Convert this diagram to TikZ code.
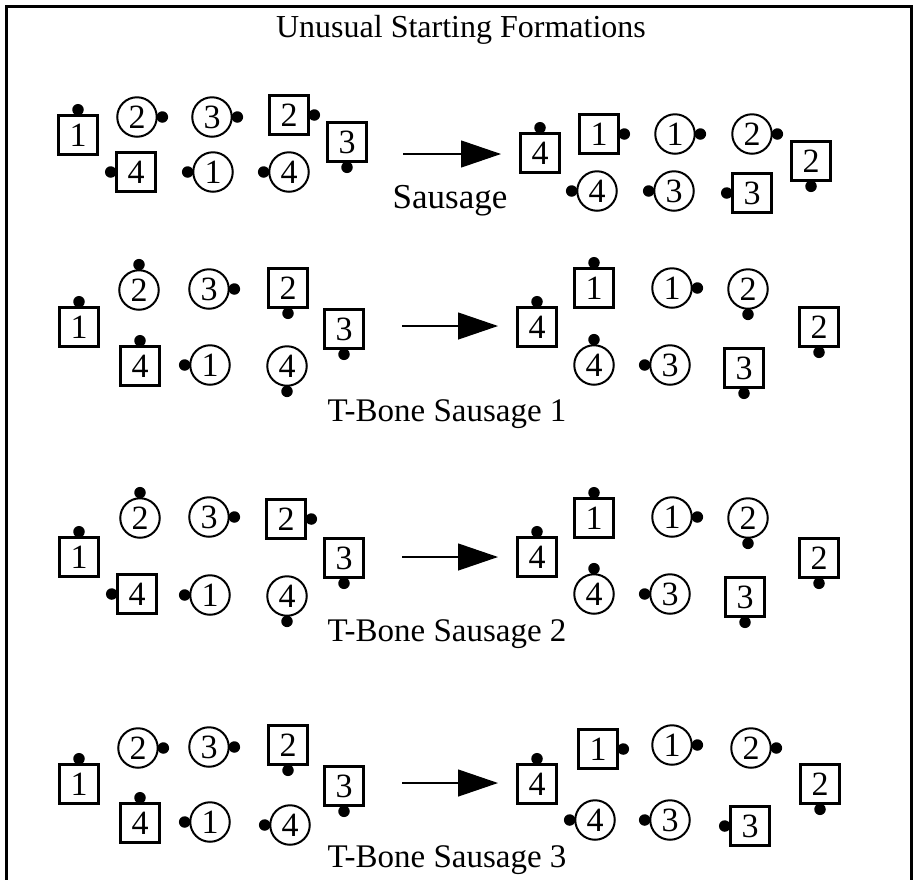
\documentclass[tikz,border=0pt]{standalone}
\usepackage{fontspec}
\setmainfont{Liberation Serif}
\usetikzlibrary{arrows.meta}
\newcommand\bigfs{\fontsize{34}{40}\selectfont}
\newcommand\ttlfs{\fontsize{32}{38}\selectfont}
\newcommand\lblfs{\fontsize{33}{40}\selectfont}
\newcommand\slblfs{\fontsize{35}{40}\selectfont}
\tikzset{
  sq/.style={draw, line width=2.9pt, minimum size=38.5pt, inner sep=0pt, font=\bigfs},
  ci/.style={draw, circle, line width=2pt, minimum size=39.5pt, inner sep=0pt, font=\bigfs},
  dot/.style={fill, circle, minimum size=11.5pt, inner sep=0pt, draw=none},
  lbl/.style={anchor=base, font=\lblfs, inner sep=0pt},
  ttl/.style={anchor=base, font=\ttlfs, inner sep=0pt},
  movearrow/.style={line width=1.2pt, -{Triangle[length=40pt,width=27pt]}},
  frame/.style={line width=3pt}
}
% dot macros: name, node
\newcommand\dN[2]{\node[dot] (#1) at ([yshift=4.6pt]#2.north) {};}
\newcommand\dS[2]{\node[dot] (#1) at ([yshift=-4.6pt]#2.south) {};}
\newcommand\dE[2]{\node[dot] (#1) at ([xshift=4.6pt]#2.east) {};}
\newcommand\dW[2]{\node[dot] (#1) at ([xshift=-4.6pt]#2.west) {};}
\begin{document}
\begin{tikzpicture}[x=1pt,y=-1pt]
\useasboundingbox (0,0) rectangle (917,879);
\draw[frame] (6,900) -- (6,6) -- (911,6) -- (911,900);
\node[ttl] (title) at (461,37) {Unusual Starting Formations};

% ---------- Row 1: Sausage ----------
\node[sq] (r1s1) at (78,135) {1}; \dN{r1d1}{r1s1}
\node[ci] (r1c2) at (137,117) {2}; \dE{r1d2}{r1c2}
\node[ci] (r1c3) at (212,117) {3}; \dE{r1d3}{r1c3}
\node[sq] (r1s2) at (289,115) {2}; \dE{r1d4}{r1s2}
\node[sq] (r1s3) at (347,142) {3}; \dS{r1d5}{r1s3}
\node[sq] (r1s4) at (136,172) {4}; \dW{r1d6}{r1s4}
\node[ci] (r1c1) at (213,172) {1}; \dW{r1d7}{r1c1}
\node[ci] (r1c4) at (289,172) {4}; \dW{r1d8}{r1c4}
\coordinate (r1a) at (403,154); \coordinate (r1b) at (501,154);
\draw[movearrow] (r1a) -- (r1b);
\node[sq] (r1S4) at (540,153) {4}; \dN{r1e1}{r1S4}
\node[sq] (r1S1) at (599,134) {1}; \dE{r1e2}{r1S1}
\node[ci] (r1C1) at (675,134) {1}; \dE{r1e3}{r1C1}
\node[ci] (r1C2) at (752,134) {2}; \dE{r1e4}{r1C2}
\node[sq] (r1S2) at (811,161) {2}; \dS{r1e5}{r1S2}
\node[ci] (r1C4) at (597,191) {4}; \dW{r1e6}{r1C4}
\node[ci] (r1C3) at (674,191) {3}; \dW{r1e7}{r1C3}
\node[sq] (r1S3) at (752,193) {3}; \dW{r1e8}{r1S3}
\node[lbl, font=\slblfs] (r1l) at (450,208) {Sausage};

% ---------- Row 2: T-Bone Sausage 1 ----------
\node[ci] (r2c2) at (139,290) {2}; \dN{r2d1}{r2c2}
\node[ci] (r2c3) at (209,289) {3}; \dE{r2d2}{r2c3}
\node[sq] (r2s2) at (288,288) {2}; \dS{r2d3}{r2s2}
\node[sq] (r2s1) at (79,327) {1}; \dN{r2d4}{r2s1}
\node[sq] (r2s3) at (344,329) {3}; \dS{r2d5}{r2s3}
\node[sq] (r2s4) at (140,366) {4}; \dN{r2d6}{r2s4}
\node[ci] (r2c1) at (210,365) {1}; \dW{r2d7}{r2c1}
\node[ci] (r2c4) at (287,366) {4}; \dS{r2d8}{r2c4}
\coordinate (r2a) at (402,326); \coordinate (r2b) at (498,326);
\draw[movearrow] (r2a) -- (r2b);
\node[sq] (r2S4) at (537,327) {4}; \dN{r2e1}{r2S4}
\node[sq] (r2S1) at (594,288) {1}; \dN{r2e2}{r2S1}
\node[ci] (r2C1) at (672,288) {1}; \dE{r2e3}{r2C1}
\node[ci] (r2C2) at (748,289) {2}; \dS{r2e4}{r2C2}
\node[sq] (r2S2) at (819,327) {2}; \dS{r2e5}{r2S2}
\node[ci] (r2C4) at (594,365) {4}; \dN{r2e6}{r2C4}
\node[ci] (r2C3) at (670,365) {3}; \dW{r2e7}{r2C3}
\node[sq] (r2S3) at (744,368) {3}; \dS{r2e8}{r2S3}
\node[lbl] (r2l) at (447,421) {T-Bone Sausage 1};

% ---------- Row 3: T-Bone Sausage 2 ----------
\node[ci] (r3c2) at (140,518) {2}; \dN{r3d1}{r3c2}
\node[ci] (r3c3) at (209,517) {3}; \dE{r3d2}{r3c3}
\node[sq] (r3s2) at (286,519) {2}; \dE{r3d3}{r3s2}
\node[sq] (r3s1) at (79,557) {1}; \dN{r3d4}{r3s1}
\node[sq] (r3s3) at (344,558) {3}; \dS{r3d5}{r3s3}
\node[sq] (r3s4) at (137,594) {4}; \dW{r3d6}{r3s4}
\node[ci] (r3c1) at (210,595) {1}; \dW{r3d7}{r3c1}
\node[ci] (r3c4) at (287,596) {4}; \dS{r3d8}{r3c4}
\coordinate (r3a) at (402,557); \coordinate (r3b) at (498,557);
\draw[movearrow] (r3a) -- (r3b);
\node[sq] (r3S4) at (537,557) {4}; \dN{r3e1}{r3S4}
\node[sq] (r3S1) at (594,518) {1}; \dN{r3e2}{r3S1}
\node[ci] (r3C1) at (672,517) {1}; \dE{r3e3}{r3C1}
\node[ci] (r3C2) at (748,518) {2}; \dS{r3e4}{r3C2}
\node[sq] (r3S2) at (819,558) {2}; \dS{r3e5}{r3S2}
\node[ci] (r3C4) at (594,594) {4}; \dN{r3e6}{r3C4}
\node[ci] (r3C3) at (670,594) {3}; \dW{r3e7}{r3C3}
\node[sq] (r3S3) at (745,597) {3}; \dS{r3e8}{r3S3}
\node[lbl] (r3l) at (447,641) {T-Bone Sausage 2};

% ---------- Row 4: T-Bone Sausage 3 ----------
\node[ci] (r4c2) at (138,748) {2}; \dE{r4d1}{r4c2}
\node[ci] (r4c3) at (209,747) {3}; \dE{r4d2}{r4c3}
\node[sq] (r4s2) at (288,745) {2}; \dS{r4d3}{r4s2}
\node[sq] (r4s1) at (79,784) {1}; \dN{r4d4}{r4s1}
\node[sq] (r4s3) at (344,786) {3}; \dS{r4d5}{r4s3}
\node[sq] (r4s4) at (140,823) {4}; \dN{r4d6}{r4s4}
\node[ci] (r4c1) at (210,822) {1}; \dW{r4d7}{r4c1}
\node[ci] (r4c4) at (290,825) {4}; \dW{r4d8}{r4c4}
\coordinate (r4a) at (402,783); \coordinate (r4b) at (498,783);
\draw[movearrow] (r4a) -- (r4b);
\node[sq] (r4S4) at (537,784) {4}; \dN{r4e1}{r4S4}
\node[sq] (r4S1) at (598,749) {1}; \dE{r4e2}{r4S1}
\node[ci] (r4C1) at (672,745) {1}; \dE{r4e3}{r4C1}
\node[ci] (r4C2) at (751,748) {2}; \dE{r4e4}{r4C2}
\node[sq] (r4S2) at (820,784) {2}; \dS{r4e5}{r4S2}
\node[ci] (r4C4) at (595,820) {4}; \dW{r4e6}{r4C4}
\node[ci] (r4C3) at (670,820) {3}; \dW{r4e7}{r4C3}
\node[sq] (r4S3) at (750,826) {3}; \dW{r4e8}{r4S3}
\node[lbl] (r4l) at (447,867) {T-Bone Sausage 3};
\end{tikzpicture}
\end{document}
